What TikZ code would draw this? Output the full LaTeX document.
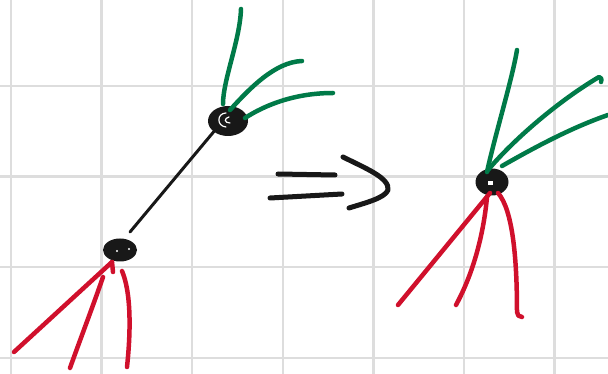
\documentclass[tikz,border=0pt]{standalone}
\usetikzlibrary{shapes.geometric}
\definecolor{gridc}{RGB}{221,221,221}
\definecolor{gr}{RGB}{0,122,72}
\definecolor{rd}{RGB}{208,16,44}
\definecolor{ink}{RGB}{24,24,24}
\begin{document}
\begin{tikzpicture}[x=1pt,y=-1pt,
  gridline/.style={gridc,line width=2.5pt},
  blob/.style={ellipse,fill=ink,inner sep=0pt},
  gstroke/.style={gr,line width=4.5pt,line cap=round,line join=round},
  rstroke/.style={rd,line width=4.5pt,line cap=round,line join=round},
  kstroke/.style={ink,line width=3pt,line cap=round,line join=round},
  astroke/.style={ink,line width=5pt,line cap=round,line join=round},
  hole/.style={white,line width=1.2pt,line cap=round},
]
\useasboundingbox (0,0) rectangle (608,374);
\fill[white] (0,0) rectangle (608,374);
% grid paper
\foreach \x in {11,101.6,192.2,282.8,373.4,464,554.6}
  \draw[gridline] (\x,0) -- (\x,374);
\foreach \y in {86,176.6,267.2,357.8}
  \draw[gridline] (0,\y) -- (608,\y);

% ---------- left graph ----------
\node[blob,minimum width=40pt,minimum height=30pt] (u) at (228,121) {};
\node[blob,minimum width=34pt,minimum height=23pt] (l) at (120,250) {};
\draw[hole] (226,113) .. controls (217,113) and (216,126) .. (226,127);
\draw[hole] (229,117) .. controls (224,118) and (224,123) .. (230,123);
\fill[white] (117,251) circle (1.2pt);
\fill[white] (129,249) circle (1.2pt);

\coordinate (kb) at (130,232);
\draw[kstroke] (u.south west) -- (kb);

\coordinate (g1a) at (223,104); \coordinate (g1b) at (241,9);
\coordinate (g2a) at (230,110); \coordinate (g2b) at (302,61);
\coordinate (g3a) at (245,118); \coordinate (g3b) at (333,93);
\draw[gstroke] (g1a) .. controls (223,80) and (240,40) .. (g1b);
\draw[gstroke] (g2a) .. controls (250,88) and (275,62) .. (g2b);
\draw[gstroke] (g3a) .. controls (265,105) and (295,93) .. (g3b);

\coordinate (r1a) at (112,262); \coordinate (r1b) at (14,352);
\coordinate (r2a) at (103,277); \coordinate (r2b) at (70,368);
\coordinate (r3a) at (122,271); \coordinate (r3b) at (127,367);
\coordinate (r0b) at (113,272);
\draw[rstroke] (r1a) -- (r1b);
\draw[rstroke] (r1a) -- (r0b);
\draw[rstroke] (r2a) .. controls (93,306) and (80,340) .. (r2b);
\draw[rstroke] (r3a) .. controls (131,292) and (131,330) .. (r3b);

% ---------- implies arrow ----------
\coordinate (a1) at (278,174); \coordinate (a2) at (335,175);
\coordinate (b1) at (270,198); \coordinate (b2) at (342,194);
\coordinate (c1) at (343,157); \coordinate (c2) at (388,190); \coordinate (c3) at (349,208);
\draw[astroke] (a1) -- (a2);
\draw[astroke] (b1) -- (b2);
\draw[astroke] (c1) .. controls (365,168) and (390,178) .. (c2)
               .. controls (385,198) and (365,203) .. (c3);

% ---------- right graph ----------
\node[blob,minimum width=33pt,minimum height=27pt] (r) at (492,182) {};
\fill[white] (487.5,181) rectangle (493,185.5);

\coordinate (G1a) at (487,172); \coordinate (G1b) at (517,50);
\coordinate (G2a) at (488,170); \coordinate (G2b) at (599,77);
\coordinate (G2c) at (601,82);
\coordinate (G3a) at (502,166); \coordinate (G3b) at (608,115);
\draw[gstroke] (G1a) .. controls (495,135) and (512,80) .. (G1b);
\draw[gstroke] (G2a) .. controls (515,138) and (560,100) .. (G2b)
               .. controls (601,77) and (602,79) .. (G2c);
\draw[gstroke] (G3a) .. controls (530,150) and (570,128) .. (G3b);

\coordinate (R1a) at (490,193); \coordinate (R1b) at (398,305);
\coordinate (R2a) at (487,197); \coordinate (R2b) at (456,305);
\coordinate (R3a) at (498,193); \coordinate (R3b) at (517,312);
\coordinate (R3c) at (522,317);
\draw[rstroke] (R1a) -- (R1b);
\draw[rstroke] (R2a) .. controls (484,230) and (475,270) .. (R2b);
\draw[rstroke] (R3a) .. controls (513,210) and (517,260) .. (R3b)
               .. controls (517,315) and (519,317) .. (R3c);
\end{tikzpicture}
\end{document}
